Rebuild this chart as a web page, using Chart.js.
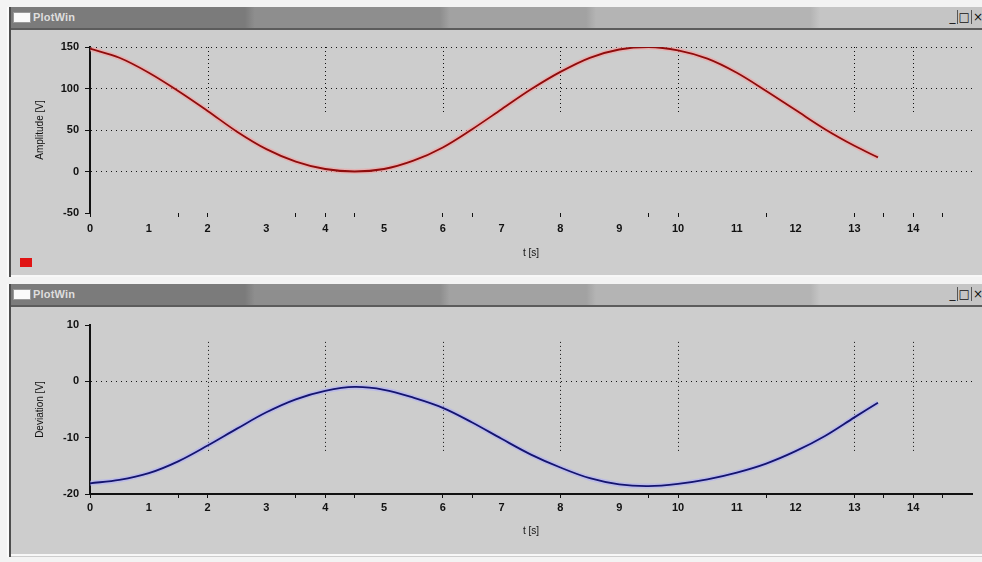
<!DOCTYPE html>
<html><head><meta charset="utf-8">
<script src="https://cdn.jsdelivr.net/npm/chart.js@4.4.0/dist/chart.umd.min.js"></script>
<style>
html,body{margin:0;padding:0;width:982px;height:562px;overflow:hidden;background:#f3f3f3;font-family:"Liberation Sans",Arial,sans-serif;}
.win{position:absolute;left:9px;width:975px;background:#cdcdcd;border-left:2px solid #4d4d4d;box-shadow:-2px 0 0 #fbfbfb;}
.bar{position:absolute;left:0;top:0;right:0;height:21px;border-bottom:2px solid #5c5c5c;
 background:linear-gradient(to right,#7b7b7b 0,#7b7b7b 24%,#8e8e8e 25%,#8e8e8e 44%,#a2a2a2 45%,#a2a2a2 59%,#b4b4b4 60%,#b4b4b4 82%,#c5c5c5 83%,#c5c5c5 100%);}
.icon{position:absolute;left:2px;top:5px;width:16px;height:9px;background:#fafafa;border:1px solid #999;}
.ttl{position:absolute;left:22px;top:4px;font-size:11px;font-weight:bold;color:#dedede;letter-spacing:0.2px;}
.btns{position:absolute;right:2px;top:3px;font-family:"DejaVu Sans",sans-serif;font-size:12px;color:#111;}
.btns span{display:inline-block;padding:0 1px;border-left:1px solid #555;}
.btns span:first-child{border-left:none;}
canvas{position:absolute;left:1px;}
.legend{position:absolute;left:9px;width:12px;height:9px;background:#e01414;}
.bottomline{position:absolute;left:0;right:0;height:2px;background:#f7f7f7;}
</style>
</head><body>
<div class="win" style="top:7px;height:270px;">
  <div class="bar"><div class="icon"></div><div class="ttl">PlotWin</div><div class="btns"><span>_</span><span>□</span><span>×</span></div></div>
  <canvas id="c1" width="968" height="248" style="top:22px"></canvas>
  <div class="legend" style="top:251px"></div>
  <div class="bottomline" style="top:268px"></div>
</div>
<div class="win" style="top:284px;height:273px;">
  <div class="bar"><div class="icon"></div><div class="ttl">PlotWin</div><div class="btns"><span>_</span><span>□</span><span>×</span></div></div>
  <canvas id="c2" width="968" height="249" style="top:23px"></canvas>
  <div class="bottomline" style="top:270px"></div>
</div>
<script>
// ---- data ----
const xLabelValues = [0,1,2,3,4,5,6,7,8,9,10,11,12,13,14];
const xTickMarks = [0,1.5,2,3.5,4,4.5,6,6.5,8,9.5,10,11.5,13,13.5,14,14.5];
const vGridX = [2,4,6,8,10,13,14];

const topYTicks = [-50,0,50,100,150];
const topGridValues = [0,50,100,150];
const topT = [0,0.5,1,1.5,2,2.5,3,3.5,4,4.5,5,5.5,6,6.5,7,7.5,8,8.5,9,9.5,10,10.5,11,11.5,12,12.5,13,13.4];
const topSignal = [148,137,119,97,73,48,27,12,3,0,3,13,29,51,75,99,120,137,147,150,146,136,119,97,74,51,31,17];

const botYTicks = [-20,-10,0,10];
const botGridValues = [0];
const botT = [0,0.5,1,1.5,2,2.5,3,3.5,4,4.5,5,5.5,6,6.5,7,7.5,8,8.5,9,9.5,10,10.5,11,11.5,12,12.5,13,13.4];
const botSignal = [-18.1,-17.5,-16.3,-14.2,-11.4,-8.4,-5.5,-3.2,-1.7,-1.0,-1.5,-2.9,-4.7,-7.3,-10.2,-13.0,-15.3,-17.2,-18.3,-18.6,-18.2,-17.4,-16.2,-14.6,-12.4,-9.7,-6.4,-3.8];

// ---- helpers ----
const partialGrid = {
  id:'partialGrid',
  beforeDatasetsDraw(chart, args, opts){
    const xs = chart.scales.x, ys = chart.scales.y, ctx = chart.ctx;
    ctx.save();
    ctx.strokeStyle = '#111'; ctx.lineWidth = 1; ctx.setLineDash([1,3]);
    opts.xs.forEach(v=>{
      const px = Math.round(xs.getPixelForValue(v))+0.5;
      ctx.beginPath();
      ctx.moveTo(px, ys.getPixelForValue(opts.from));
      ctx.lineTo(px, ys.getPixelForValue(opts.to));
      ctx.stroke();
    });
    ctx.restore();
  }
};

function makeChart(id, cfg){
  const pts = cfg.t.map((t,i)=>({x:t,y:cfg.v[i]}));
  return new Chart(document.getElementById(id), {
    type:'line',
    data:{datasets:[
      {data:pts, borderColor:cfg.color, borderWidth:1.8, pointRadius:0, tension:0.35, fill:false, order:1},
      {data:pts, borderColor:cfg.halo, borderWidth:5, pointRadius:0, tension:0.35, fill:false, order:2}
    ]},
    plugins:[partialGrid],
    options:{
      responsive:false, animation:false, devicePixelRatio:1,
      layout:{padding:{left:18, top:18, right:8, bottom:0}},
      plugins:{legend:{display:false}, tooltip:{enabled:false},
        partialGrid:{xs:vGridX, from:cfg.vFrom, to:cfg.vTo}},
      scales:{
        x:{type:'linear', min:0, max:15,
          afterFit(s){ s.height = cfg.xh; },
          afterBuildTicks(s){
            const set = Array.from(new Set(xLabelValues.concat(xTickMarks))).sort((a,b)=>a-b);
            s.ticks = set.map(v=>({value:v}));
          },
          ticks:{autoSkip:false, maxRotation:0, padding:cfg.xpad, color:'#111',
            font:{family:'Liberation Sans', size:11, weight:'bold'},
            callback:(v)=> xLabelValues.includes(v) ? String(v) : ''},
          grid:{drawOnChartArea:false, drawTicks:true, tickLength:4,
            tickColor:(c)=> (c.tick && xTickMarks.includes(c.tick.value)) ? '#111' : 'rgba(0,0,0,0)'},
          border:{display:cfg.xBorder, color:'#111', width:2},
          title:{display:true, text:'t [s]', color:'#111', font:{family:'Liberation Sans', size:10}, padding:{top:0,bottom:cfg.xtpad}}
        },
        y:{type:'linear', min:cfg.ymin, max:cfg.ymax,
          afterFit(s){ s.width = 60; },
          afterBuildTicks(s){ s.ticks = cfg.yticks.map(v=>({value:v})); },
          ticks:{padding:6, color:'#111', font:{family:'Liberation Sans', size:11, weight:'bold'}},
          grid:{drawTicks:true, tickLength:5,
            color:(c)=> (c.tick && cfg.gridVals.includes(c.tick.value)) ? '#151515' : 'rgba(0,0,0,0)',
            tickColor:'#111', lineWidth:1},
          border:{display:true, color:'#111', width:2, dash:[1,4]},
          title:{display:true, text:cfg.ytitle, color:'#111', font:{family:'Liberation Sans', size:10}, padding:{top:4,bottom:0}}
        }
      }
    }
  });
}

makeChart('c1', {t:topT, v:topSignal, color:'#8e0c0c', halo:'rgba(245,160,160,0.6)',
  ymin:-50, ymax:150, yticks:topYTicks, gridVals:topGridValues, vFrom:150, vTo:70,
  xh:64, xpad:5, xtpad:18, xBorder:false, ytitle:'Amplitude [V]'});
makeChart('c2', {t:botT, v:botSignal, color:'#14146e', halo:'rgba(175,175,250,0.6)',
  ymin:-20, ymax:10, yticks:botYTicks, gridVals:botGridValues, vFrom:7, vTo:-12.5,
  xh:62, xpad:3, xtpad:19, xBorder:true, ytitle:'Deviation [V]'});
</script>
</body></html>
